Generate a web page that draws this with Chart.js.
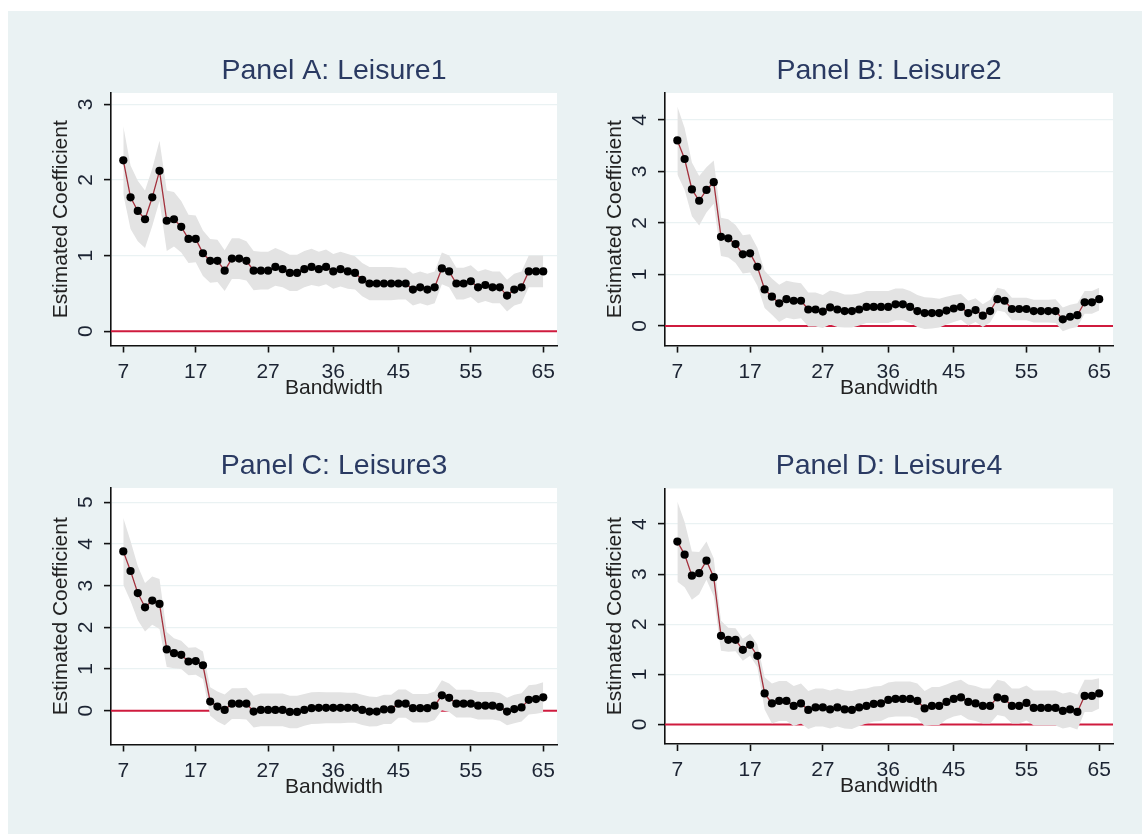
<!DOCTYPE html>
<html>
<head>
<meta charset="utf-8">
<script src="https://cdn.jsdelivr.net/npm/chart.js@4.4.1/dist/chart.umd.min.js"></script>
<style>
  html, body { margin: 0; padding: 0; background: #fff; width: 1142px; height: 834px; overflow: hidden; }
  #frame { position: absolute; left: 8px; top: 11px; width: 1134px; height: 823px; background: #eaf2f3; }
  canvas { position: absolute; }
  #panelA { left: 40px; top: 36px; }
  #panelB { left: 594px; top: 36px; }
  #panelC { left: 40px; top: 431px; }
  #panelD { left: 594px; top: 431px; }
</style>
</head>
<body>
<div id="frame"></div>
<canvas id="panelA" width="530" height="374"></canvas>
<canvas id="panelB" width="548" height="374"></canvas>
<canvas id="panelC" width="530" height="374"></canvas>
<canvas id="panelD" width="548" height="374"></canvas>
<script>
// bandwidth (x axis)
const bandwidth = [7, 8, 9, 10, 11, 12, 13, 14, 15, 16, 17, 18, 19, 20, 21, 22, 23, 24, 25, 26,
  27, 28, 29, 30, 31, 32, 33, 34, 35, 36, 37, 38, 39, 40, 41, 42, 43, 44, 45, 46,
  47, 48, 49, 50, 51, 52, 53, 54, 55, 56, 57, 58, 59, 60, 61, 62, 63, 64, 65];
const xTicks = [7, 17, 27, 36, 45, 55, 65];

// Panel A: Leisure1
const leisure1 = [2.26, 1.77, 1.59, 1.48, 1.77, 2.12, 1.46, 1.48, 1.38, 1.22, 1.22, 1.03, 0.93, 0.93, 0.80, 0.96, 0.96, 0.93, 0.80, 0.80,
  0.80, 0.85, 0.82, 0.77, 0.77, 0.82, 0.85, 0.82, 0.85, 0.79, 0.82, 0.79, 0.77, 0.68, 0.63, 0.63, 0.63, 0.63, 0.63, 0.63,
  0.55, 0.58, 0.55, 0.58, 0.83, 0.79, 0.63, 0.63, 0.66, 0.58, 0.61, 0.58, 0.58, 0.47, 0.55, 0.58, 0.79, 0.79, 0.79];
const leisure1Lo = [1.81, 1.35, 1.19, 1.10, 1.39, 1.72, 1.06, 1.12, 1.04, 0.90, 0.91, 0.73, 0.64, 0.65, 0.53, 0.69, 0.69, 0.67, 0.54, 0.55,
  0.55, 0.60, 0.58, 0.53, 0.53, 0.58, 0.61, 0.59, 0.62, 0.56, 0.59, 0.56, 0.55, 0.46, 0.41, 0.41, 0.41, 0.41, 0.42, 0.42,
  0.34, 0.37, 0.34, 0.37, 0.62, 0.58, 0.42, 0.42, 0.45, 0.37, 0.40, 0.37, 0.37, 0.26, 0.34, 0.37, 0.58, 0.58, 0.58];
const leisure1Hi = [2.71, 2.19, 1.99, 1.86, 2.15, 2.52, 1.86, 1.84, 1.72, 1.54, 1.53, 1.33, 1.22, 1.21, 1.07, 1.23, 1.23, 1.19, 1.06, 1.05,
  1.05, 1.10, 1.06, 1.01, 1.01, 1.06, 1.09, 1.05, 1.08, 1.02, 1.05, 1.02, 0.99, 0.90, 0.85, 0.85, 0.85, 0.85, 0.84, 0.84,
  0.76, 0.79, 0.76, 0.79, 1.04, 1.00, 0.84, 0.84, 0.87, 0.79, 0.82, 0.79, 0.79, 0.68, 0.76, 0.79, 1.00, 1.00, 1.00];

// Panel B: Leisure2
const leisure2 = [3.60, 3.24, 2.65, 2.43, 2.64, 2.79, 1.73, 1.70, 1.59, 1.39, 1.41, 1.15, 0.71, 0.57, 0.44, 0.52, 0.49, 0.49, 0.32, 0.32,
  0.28, 0.36, 0.32, 0.29, 0.29, 0.32, 0.37, 0.37, 0.37, 0.37, 0.42, 0.42, 0.37, 0.29, 0.25, 0.25, 0.25, 0.30, 0.34, 0.37,
  0.25, 0.31, 0.20, 0.29, 0.52, 0.49, 0.33, 0.33, 0.33, 0.29, 0.29, 0.29, 0.29, 0.13, 0.18, 0.21, 0.46, 0.46, 0.52];
const leisure2Lo = [2.94, 2.64, 2.13, 1.95, 2.20, 2.37, 1.36, 1.33, 1.22, 1.02, 1.04, 0.78, 0.35, 0.22, 0.08, 0.16, 0.13, 0.15, -0.01, -0.01,
  -0.04, 0.03, -0.02, -0.03, -0.03, 0.01, 0.06, 0.06, 0.06, 0.06, 0.11, 0.11, 0.06, -0.02, -0.06, -0.05, -0.03, 0.03, 0.08, 0.12,
  0.01, 0.08, -0.02, 0.07, 0.30, 0.27, 0.11, 0.11, 0.11, 0.07, 0.07, 0.07, 0.06, -0.10, -0.05, -0.02, 0.24, 0.24, 0.30];
const leisure2Hi = [4.26, 3.84, 3.17, 2.91, 3.08, 3.21, 2.10, 2.07, 1.96, 1.76, 1.78, 1.52, 1.07, 0.92, 0.80, 0.88, 0.85, 0.83, 0.65, 0.65,
  0.60, 0.69, 0.66, 0.61, 0.61, 0.63, 0.68, 0.68, 0.68, 0.68, 0.73, 0.73, 0.68, 0.60, 0.56, 0.55, 0.53, 0.57, 0.60, 0.62,
  0.49, 0.54, 0.42, 0.51, 0.74, 0.71, 0.55, 0.55, 0.55, 0.51, 0.51, 0.51, 0.52, 0.36, 0.41, 0.44, 0.68, 0.68, 0.74];

// Panel C: Leisure3
const leisure3 = [3.82, 3.35, 2.82, 2.48, 2.64, 2.56, 1.47, 1.38, 1.34, 1.18, 1.19, 1.09, 0.22, 0.10, 0.02, 0.17, 0.17, 0.17, -0.02, 0.02,
  0.02, 0.02, 0.02, -0.03, -0.03, 0.02, 0.06, 0.07, 0.07, 0.07, 0.07, 0.07, 0.07, 0.02, -0.02, -0.02, 0.03, 0.03, 0.17, 0.17,
  0.06, 0.06, 0.06, 0.12, 0.37, 0.31, 0.17, 0.17, 0.17, 0.12, 0.12, 0.12, 0.09, -0.02, 0.04, 0.08, 0.26, 0.28, 0.32];
const leisure3Lo = [3.02, 2.63, 2.17, 1.90, 2.06, 1.96, 1.05, 1.02, 1.00, 0.85, 0.86, 0.76, -0.12, -0.26, -0.35, -0.20, -0.20, -0.21, -0.40, -0.37,
  -0.37, -0.37, -0.37, -0.42, -0.42, -0.36, -0.32, -0.31, -0.30, -0.30, -0.30, -0.29, -0.29, -0.34, -0.38, -0.37, -0.32, -0.32, -0.17, -0.17,
  -0.28, -0.28, -0.28, -0.22, 0.01, -0.03, -0.16, -0.16, -0.16, -0.21, -0.21, -0.21, -0.24, -0.35, -0.30, -0.26, -0.09, -0.07, -0.04];
const leisure3Hi = [4.62, 4.07, 3.47, 3.06, 3.22, 3.16, 1.89, 1.74, 1.68, 1.51, 1.52, 1.42, 0.56, 0.46, 0.39, 0.54, 0.54, 0.55, 0.36, 0.41,
  0.41, 0.41, 0.41, 0.36, 0.36, 0.40, 0.44, 0.45, 0.44, 0.44, 0.44, 0.43, 0.43, 0.38, 0.34, 0.33, 0.38, 0.38, 0.51, 0.51,
  0.40, 0.40, 0.40, 0.46, 0.73, 0.65, 0.50, 0.50, 0.50, 0.45, 0.45, 0.45, 0.42, 0.31, 0.38, 0.42, 0.61, 0.63, 0.68];

// Panel D: Leisure4
const leisure4 = [3.65, 3.39, 2.97, 3.02, 3.27, 2.94, 1.77, 1.69, 1.69, 1.49, 1.59, 1.37, 0.62, 0.42, 0.47, 0.47, 0.37, 0.42, 0.29, 0.34,
  0.34, 0.30, 0.34, 0.30, 0.29, 0.34, 0.37, 0.41, 0.42, 0.49, 0.51, 0.51, 0.51, 0.47, 0.32, 0.37, 0.37, 0.45, 0.51, 0.54,
  0.45, 0.42, 0.37, 0.37, 0.54, 0.51, 0.37, 0.37, 0.43, 0.33, 0.33, 0.33, 0.33, 0.27, 0.30, 0.25, 0.57, 0.57, 0.62];
const leisure4Lo = [2.85, 2.74, 2.49, 2.60, 2.89, 2.56, 1.47, 1.45, 1.46, 1.27, 1.37, 1.14, 0.30, 0.02, 0.07, 0.07, -0.03, 0.02, -0.09, -0.04,
  -0.04, -0.08, -0.04, -0.08, -0.09, -0.03, 0.02, 0.06, 0.07, 0.14, 0.16, 0.16, 0.16, 0.12, -0.03, -0.01, -0.01, 0.10, 0.16, 0.19,
  0.10, 0.07, 0.02, 0.02, 0.19, 0.16, 0.02, 0.02, 0.08, -0.02, -0.02, -0.02, -0.02, -0.08, -0.05, -0.10, 0.25, 0.25, 0.32];
const leisure4Hi = [4.45, 4.04, 3.45, 3.44, 3.65, 3.32, 2.07, 1.93, 1.92, 1.71, 1.81, 1.60, 0.94, 0.82, 0.87, 0.87, 0.77, 0.82, 0.67, 0.72,
  0.72, 0.68, 0.72, 0.68, 0.67, 0.71, 0.72, 0.76, 0.77, 0.84, 0.86, 0.86, 0.86, 0.82, 0.67, 0.75, 0.75, 0.80, 0.86, 0.89,
  0.80, 0.77, 0.72, 0.72, 0.89, 0.86, 0.72, 0.72, 0.78, 0.68, 0.68, 0.68, 0.68, 0.62, 0.65, 0.60, 0.89, 0.89, 0.92];

const xMin = 5.3;
const xMax = 66.9;
const zeroLine = 0;

Chart.defaults.font.family = "'Liberation Sans', Arial, sans-serif";
Chart.defaults.animation = false;

const TICK_COLOR = "#1c2433";
const TITLE_SIZE = 28.5;
const BAND_COLOR = "#e3e3e3";

// Stata look: white plot region, red zero line under the band, rotated y labels
const stataLook = {
  id: "stataLook",
  beforeDraw(chart) {
    const { ctx, chartArea: a } = chart;
    ctx.save();
    ctx.fillStyle = "#ffffff";
    ctx.fillRect(a.left, a.top, a.right - a.left, a.bottom - a.top);
    ctx.restore();
  },
  beforeDatasetsDraw(chart) {
    const { ctx, chartArea: a } = chart;
    const y0 = chart.scales.y.getPixelForValue(zeroLine);
    ctx.save();
    ctx.strokeStyle = "#cf1b3e";
    ctx.lineWidth = 2;
    ctx.beginPath();
    ctx.moveTo(a.left, y0);
    ctx.lineTo(a.right, y0);
    ctx.stroke();
    ctx.restore();
  },
  afterDraw(chart) {
    const { ctx, chartArea: a } = chart;
    const s = chart.scales.y;
    ctx.save();
    ctx.font = "21px 'Liberation Sans', Arial, sans-serif";
    ctx.fillStyle = TICK_COLOR;
    ctx.textAlign = "center";
    ctx.textBaseline = "alphabetic";
    s.ticks.forEach((t) => {
      const y = s.getPixelForValue(t.value);
      ctx.save();
      ctx.translate(a.left - 19, y);
      ctx.rotate(-Math.PI / 2);
      ctx.fillText(String(t.value), 0, 0);
      ctx.restore();
    });
    ctx.restore();
  },
};

const toPoints = (values) => values.map((v, i) => ({ x: bandwidth[i], y: v }));

function makePanel(id, title, est, lo, hi, yMin, yMax, yTicks, plot) {
  const canvas = document.getElementById(id);
  const box = canvas.getBoundingClientRect();
  const lh = TITLE_SIZE * 1.2;
  const titleTop = plot.top - 22 - lh / 2 - box.top;
  const titleBottom = plot.top - box.top - lh - titleTop;

  new Chart(canvas, {
    type: "line",
    data: {
      datasets: [
        {
          data: toPoints(est),
          borderColor: "#a3303c",
          borderWidth: 1.3,
          pointRadius: 4.1,
          pointBackgroundColor: "#000",
          pointBorderWidth: 0,
          tension: 0,
          order: 0,
        },
        {
          data: toPoints(hi),
          borderWidth: 0,
          pointRadius: 0,
          backgroundColor: BAND_COLOR,
          fill: "+1",
          order: 1,
        },
        {
          data: toPoints(lo),
          borderWidth: 0,
          pointRadius: 0,
          fill: false,
          order: 2,
        },
      ],
    },
    options: {
      responsive: false,
      layout: {
        padding: {
          left: 0,
          right: box.right - plot.right,
          top: 0,
          bottom: box.bottom - plot.bottom - 56,
        },
      },
      plugins: {
        legend: { display: false },
        tooltip: { enabled: false },
        title: {
          display: true,
          text: title,
          fullSize: false,
          color: "#2a3a62",
          font: { size: TITLE_SIZE, weight: "normal" },
          padding: { top: titleTop, bottom: titleBottom },
        },
      },
      scales: {
        x: {
          type: "linear",
          min: xMin,
          max: xMax,
          afterBuildTicks: (s) => {
            s.ticks = xTicks.map((v) => ({ value: v }));
          },
          afterFit: (s) => {
            s.height = 56;
          },
          border: { display: true, color: "#111", width: 1.6 },
          grid: { drawOnChartArea: false, drawTicks: true, tickLength: 7, tickColor: "#111", tickWidth: 1.6 },
          ticks: {
            color: TICK_COLOR,
            font: { size: 21 },
            padding: 7,
            maxRotation: 0,
            autoSkip: false,
          },
          title: {
            display: true,
            text: "Bandwidth",
            color: "#222",
            font: { size: 21 },
            padding: { top: 0, bottom: 1 },
          },
        },
        y: {
          min: yMin,
          max: yMax,
          afterBuildTicks: (s) => {
            s.ticks = yTicks.map((v) => ({ value: v }));
          },
          afterFit: (s) => {
            s.width = plot.left - box.left;
          },
          border: { display: true, color: "#111", width: 1.6 },
          grid: {
            color: (c) => (c.tick && c.tick.value === zeroLine ? "rgba(0,0,0,0)" : "#eaf2f3"),
            lineWidth: 1.2,
            drawTicks: true,
            tickLength: 7,
            tickColor: "#111",
            tickWidth: 1.6,
          },
          ticks: { display: false },
          title: {
            display: true,
            text: "Estimated Coefficient",
            color: "#222",
            font: { size: 21 },
            padding: { top: 8.4, bottom: 0 },
          },
        },
      },
    },
    plugins: [stataLook],
  });
}

makePanel("panelA", "Panel A: Leisure1", leisure1, leisure1Lo, leisure1Hi, -0.19, 3.15, [0, 1, 2, 3],
  { left: 111, right: 557, top: 93, bottom: 345.5 });
makePanel("panelB", "Panel B: Leisure2", leisure2, leisure2Lo, leisure2Hi, -0.38, 4.52, [0, 1, 2, 3, 4],
  { left: 665, right: 1113, top: 93, bottom: 345.6 });
makePanel("panelC", "Panel C: Leisure3", leisure3, leisure3Lo, leisure3Hi, -0.81, 5.34, [0, 1, 2, 3, 4, 5],
  { left: 111, right: 557, top: 488, bottom: 744.5 });
makePanel("panelD", "Panel D: Leisure4", leisure4, leisure4Lo, leisure4Hi, -0.39, 4.71, [0, 1, 2, 3, 4],
  { left: 665, right: 1113, top: 488.5, bottom: 744 });
</script>
</body>
</html>
